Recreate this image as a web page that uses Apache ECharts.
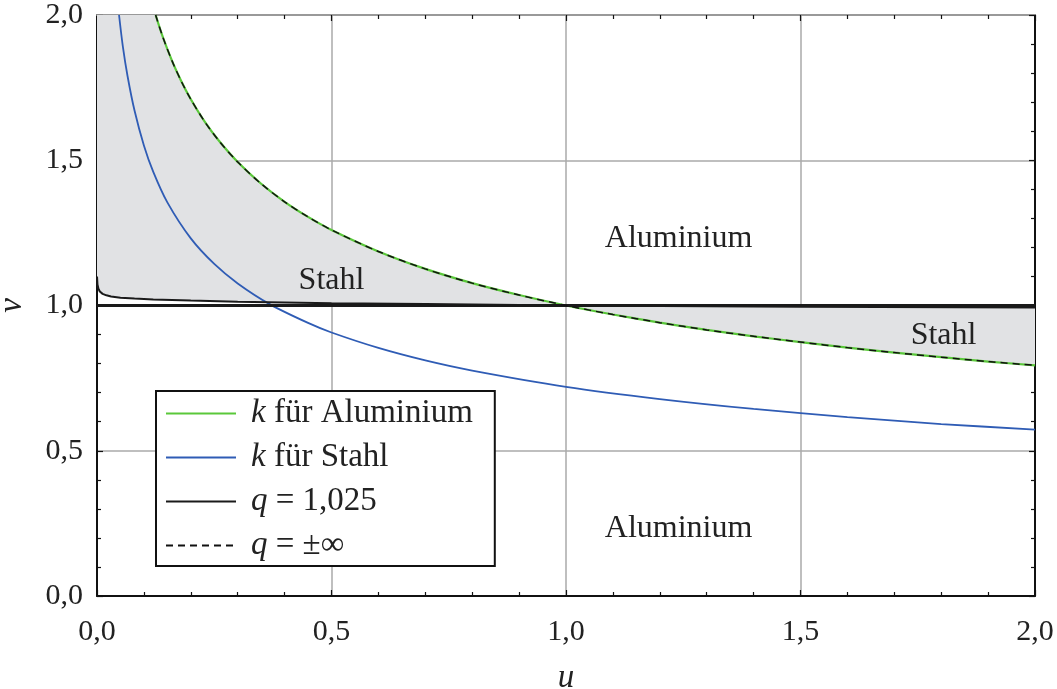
<!DOCTYPE html>
<html>
<head>
<meta charset="utf-8">
<script src="https://cdn.jsdelivr.net/npm/echarts@6/dist/echarts.min.js"></script>
<style>
  html, body { margin: 0; padding: 0; background: #fff; }
  #chart { width: 1057px; height: 689px; }
</style>
</head>
<body>
<div id="chart"></div>
<script>
// k für Aluminium (also carries the dashed q = ±∞ curve)
var uAl = [0.125, 0.14, 0.16, 0.18, 0.2, 0.23, 0.26, 0.3, 0.35, 0.4, 0.45, 0.5, 0.6, 0.7, 0.8, 0.9, 1.0,
           1.1, 1.2, 1.3, 1.4, 1.5, 1.6, 1.7, 1.8, 1.9, 2.0];
var vAl = [2.0, 1.926, 1.842, 1.771, 1.71, 1.632, 1.567, 1.494, 1.419, 1.357, 1.305, 1.26, 1.186, 1.126, 1.077, 1.036, 1.0,
           0.969, 0.941, 0.916, 0.894, 0.874, 0.855, 0.838, 0.822, 0.807, 0.794];
// k für Stahl
var uSt = [0.047, 0.055, 0.065, 0.08, 0.1, 0.12, 0.15, 0.2, 0.25, 0.3, 0.37, 0.45, 0.5, 0.6, 0.7, 0.8, 1.0,
           1.2, 1.4, 1.6, 1.8, 2.0];
var vSt = [2.0, 1.893, 1.791, 1.671, 1.551, 1.46, 1.355, 1.231, 1.143, 1.076, 1.003, 0.94, 0.907, 0.854, 0.811, 0.776, 0.72,
           0.678, 0.644, 0.616, 0.592, 0.573];
// q = 1,025
var uQ = [0, 0.001, 0.003, 0.006, 0.012, 0.02, 0.03, 0.05, 0.08, 0.12, 0.2, 0.3, 0.5, 0.7, 1.0, 1.5, 2.0];
var vQ = [1.10, 1.072, 1.058, 1.048, 1.04, 1.035, 1.031, 1.027, 1.024, 1.021, 1.017, 1.013, 1.008, 1.005, 1.0, 0.996, 0.993];
// line v = 1
var uOne = [0, 2];
var vOne = [1, 1];

var tickLabels = ['0,0', '0,5', '1,0', '1,5', '2,0'];
var seriesNames = ['k für Aluminium', 'k für Stahl', 'q = 1,025', 'q = ±∞'];
var areaNames = ['Stahl', 'Aluminium', 'Stahl', 'Aluminium'];

var FONT = '"Liberation Serif", "DejaVu Serif", serif';

function pairs(us, vs) {
  return us.map(function (u, i) { return [u, vs[i]]; });
}

var chart = echarts.init(document.getElementById('chart'));

var option = {
  animation: false,
  backgroundColor: '#fff',
  grid: { left: 97, right: 22, top: 15, bottom: 93, containLabel: false, outerBoundsMode: 'none' },
  legend: {
    data: seriesNames,
    orient: 'vertical',
    left: 156,
    top: 391,
    itemWidth: 70,
    itemHeight: 14,
    itemGap: 11,
    padding: [6, 22, 4, 9],
    backgroundColor: '#fff',
    borderColor: '#111',
    borderWidth: 2,
    borderRadius: 0,
    selectedMode: false,
    itemStyle: { opacity: 0 },
    formatter: function (n) { return '{i|' + n[0] + '}' + n.slice(1); },
    textStyle: {
      fontFamily: FONT, fontSize: 33, color: '#222', padding: [0, 0, 0, 10],
      rich: { i: { fontFamily: FONT, fontSize: 33, fontStyle: 'italic', color: '#222' } }
    }
  },
  xAxis: [{
    type: 'value', min: 0, max: 2, interval: 0.5,
    name: 'u', nameLocation: 'middle', nameGap: 66,
    nameTextStyle: { fontFamily: FONT, fontSize: 33, fontStyle: 'italic', color: '#222' },
    axisLine: { show: true, onZero: false, lineStyle: { color: '#111', width: 2 } },
    axisTick: { show: true, inside: true, length: 6, lineStyle: { color: '#111', width: 1.2 } },
    minorTick: { show: true, splitNumber: 5, length: 4, lineStyle: { color: '#111', width: 1.2 } },
    splitLine: { show: true, lineStyle: { color: '#aaa', width: 1.5 } },
    axisLabel: {
      fontFamily: FONT, fontSize: 30, color: '#222', margin: 21,
      showMinLabel: true, showMaxLabel: true,
      formatter: function (v) { return tickLabels[Math.round(v / 0.5)]; }
    }
  }, {
    type: 'value', min: 0, max: 2, interval: 0.5, position: 'top',
    axisLine: { show: true, onZero: false, lineStyle: { color: '#999', width: 2 } },
    axisTick: { show: true, inside: true, length: 6, lineStyle: { color: '#111', width: 1.2 } },
    minorTick: { show: true, splitNumber: 5, length: 4, lineStyle: { color: '#111', width: 1.2 } },
    splitLine: { show: false },
    axisLabel: { show: false }
  }],
  yAxis: [{
    type: 'value', min: 0, max: 2, interval: 0.5,
    name: 'v', nameLocation: 'middle', nameGap: 68, nameRotate: 90,
    nameTextStyle: { fontFamily: FONT, fontSize: 33, fontStyle: 'italic', color: '#222' },
    axisLine: { show: true, onZero: false, lineStyle: { color: '#111', width: 2 } },
    axisTick: { show: true, inside: true, length: 6, lineStyle: { color: '#111', width: 1.2 } },
    minorTick: { show: true, splitNumber: 5, length: 4, lineStyle: { color: '#111', width: 1.2 } },
    splitLine: { show: true, lineStyle: { color: '#aaa', width: 1.5 } },
    axisLabel: {
      fontFamily: FONT, fontSize: 30, color: '#222', margin: 14,
      showMinLabel: true, showMaxLabel: true,
      formatter: function (v) { return tickLabels[Math.round(v / 0.5)]; }
    }
  }, {
    type: 'value', min: 0, max: 2, interval: 0.5, position: 'right',
    axisLine: { show: true, onZero: false, lineStyle: { color: '#111', width: 2 } },
    axisTick: { show: true, inside: true, length: 6, lineStyle: { color: '#111', width: 1.2 } },
    minorTick: { show: true, splitNumber: 5, length: 4, lineStyle: { color: '#111', width: 1.2 } },
    splitLine: { show: false },
    axisLabel: { show: false }
  }],
  series: [
    {
      // shaded "Stahl" regions between q = 1,025 / v = 1 and the Aluminium curve
      type: 'custom',
      z: 1,
      silent: true,
      data: [[0, 0], [1, 1]],
      encode: { x: 0, y: 1 },
      renderItem: function (params, api) {
        var pts = [];
        if (params.dataIndex === 0) {
          pts.push([0, 2]);
          uAl.forEach(function (u, i) { if (u <= 1) pts.push([u, vAl[i]]); });
          for (var i = uQ.length - 1; i >= 0; i--) { if (uQ[i] <= 1) pts.push([uQ[i], vQ[i]]); }
        } else {
          uAl.forEach(function (u, i) { if (u >= 1) pts.push([u, vAl[i]]); });
          pts.push([uOne[1], vOne[1]]);
          pts.push([1, vOne[0]]);
        }
        return {
          type: 'polygon',
          shape: { points: pts.map(function (p) { return api.coord(p); }) },
          style: { fill: '#e1e2e4', stroke: null }
        };
      },
      markPoint: {
        symbol: 'circle',
        symbolSize: 0,
        silent: true,
        label: {
          show: true, position: 'inside',
          fontFamily: FONT, fontSize: 32, color: '#222',
          formatter: function (p) { return p.name; }
        },
        data: [
          { name: areaNames[0], coord: [0.5, 1.087] },
          { name: areaNames[1], coord: [1.24, 1.23] },
          { name: areaNames[2], coord: [1.805, 0.897] },
          { name: areaNames[3], coord: [1.24, 0.233] }
        ]
      }
    },
    {
      name: seriesNames[0], type: 'line', z: 3, symbol: 'none', smooth: 0.3,
      data: pairs(uAl, vAl),
      lineStyle: { color: '#5ac83a', width: 2.2 },
      itemStyle: { color: '#5ac83a' }
    },
    {
      name: seriesNames[1], type: 'line', z: 3, symbol: 'none', smooth: 0.3,
      data: pairs(uSt, vSt),
      lineStyle: { color: '#2f5cb5', width: 1.8 },
      itemStyle: { color: '#2f5cb5' }
    },
    {
      name: 'v1', type: 'line', z: 4, symbol: 'none',
      data: pairs(uOne, vOne),
      lineStyle: { color: '#1a1a1a', width: 3 }
    },
    {
      name: seriesNames[2], type: 'line', z: 4, symbol: 'none',
      data: pairs(uQ, vQ),
      lineStyle: { color: '#1a1a1a', width: 2 },
      itemStyle: { color: '#1a1a1a' }
    },
    {
      name: seriesNames[3], type: 'line', z: 5, symbol: 'none', smooth: 0.3,
      data: pairs(uAl, vAl),
      lineStyle: { color: '#111', width: 1.5, type: [7, 5] },
      itemStyle: { color: '#111' }
    }
  ]
};

chart.setOption(option);
</script>
</body>
</html>
